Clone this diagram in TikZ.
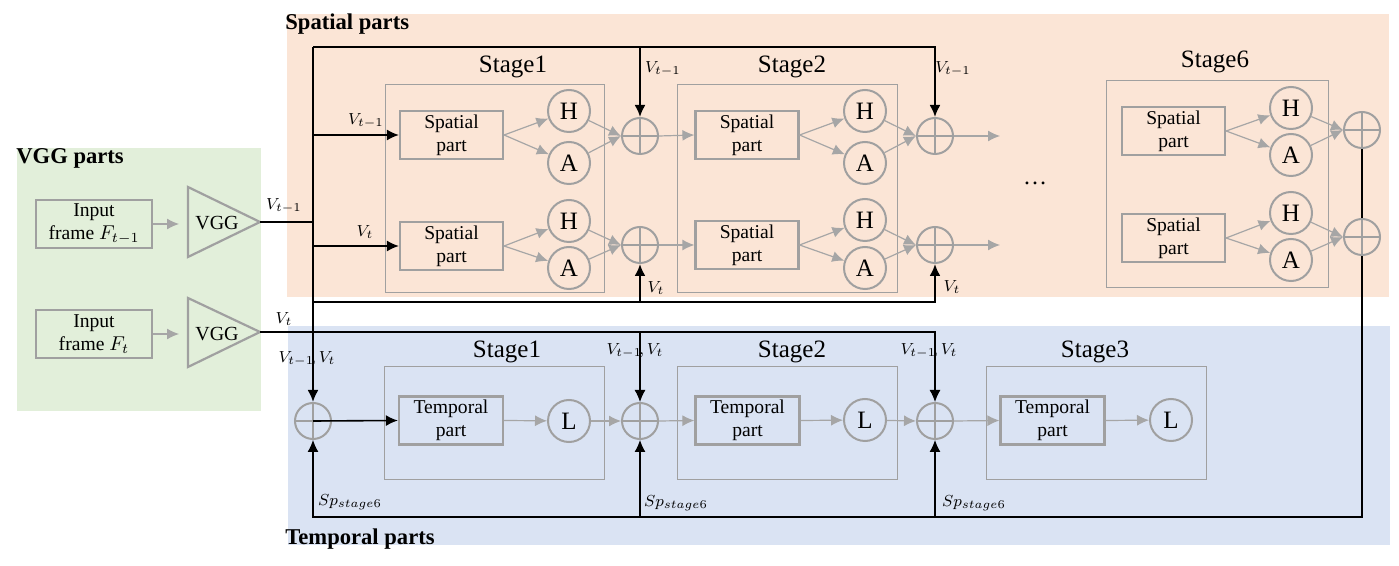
\documentclass[tikz,border=0pt]{standalone}
\usepackage{fontspec}
\setmainfont{Liberation Serif}
\usetikzlibrary{arrows.meta}
\definecolor{bgG}{RGB}{226,239,218}
\definecolor{bgO}{RGB}{251,229,214}
\definecolor{bgB}{RGB}{218,227,243}
\definecolor{gr}{RGB}{160,160,160}
\definecolor{grA}{RGB}{166,166,166}
\begin{document}
\begin{tikzpicture}[x=0.5pt,y=-0.5pt,
  box/.style={draw=gr,line width=1.1pt,minimum width=51.5pt,minimum height=24pt,inner sep=0pt,align=center,font=\fontsize{9.8}{11.3}\selectfont},
  circ/.style={circle,draw=gr,line width=1pt,minimum size=21pt,inner sep=0pt,font=\fontsize{12.5}{14}\selectfont},
  plus/.style={circle,draw=gr,line width=1pt,minimum size=18pt,inner sep=0pt,path picture={\draw[gr,line width=0.8pt] (path picture bounding box.north)--(path picture bounding box.south) (path picture bounding box.west)--(path picture bounding box.east);}},
  stg/.style={draw=gr,line width=0.5pt},
  tri/.style={draw=gr,line width=1.1pt},
  ttl/.style={font=\fontsize{12.5}{14}\selectfont,inner sep=0pt},
  lbl/.style={font=\fontsize{8.5}{9.5}\selectfont,inner sep=0pt},
  hdr/.style={font=\bfseries\fontsize{11.3}{13}\selectfont,anchor=west,inner sep=0pt},
  ga/.style={draw=grA,line width=0.6pt,-{Latex[length=6pt,width=5.5pt]}},
  bk/.style={draw=black,line width=0.6pt},
  bkm/.style={draw=black,line width=0.8pt},
  bkt/.style={draw=black,line width=1.05pt},
  ba/.style={-{Latex[length=6pt,width=5.5pt]}},
]
% backgrounds
\fill[white] (0,0) rectangle (1399,566);
\fill[bgG] (17,148) rectangle (261,411);
\fill[bgO] (287,14) rectangle (1389,297);
\fill[bgB] (288,326) rectangle (1390,545);

% headers
\node[hdr] (hV) at (16,158) {VGG parts};
\node[hdr] (hS) at (285,24) {Spatial parts};
\node[hdr] (hT) at (285,539) {Temporal parts};

% stage frames
\draw[stg] (385,85) rectangle (604,293);
\draw[stg] (677,85) rectangle (897,293);
\draw[stg] (1106,81) rectangle (1328,288);
\draw[stg] (384,367) rectangle (604,480);
\draw[stg] (677,367) rectangle (897,480);
\draw[stg] (986,367) rectangle (1206,480);

\node[ttl] (st1) at (513,67) {Stage1};
\node[ttl] (st2) at (792,67) {Stage2};
\node[ttl] (st6) at (1215,62) {Stage6};
\node[ttl] (tt1) at (507,352) {Stage1};
\node[ttl] (tt2) at (792,352) {Stage2};
\node[ttl] (tt3) at (1095,352) {Stage3};
\node[font=\fontsize{12}{14}\selectfont] (dots) at (1035,183) {\dots};

% VGG part
\node[box,minimum width=58pt] (in1) at (94,224) {Input\\frame $F_{t-1}$};
\node[box,minimum width=58pt] (in2) at (94,334) {Input\\frame $F_t$};
\draw[tri] (188,187) -- (260,222) -- (188,257) -- cycle;
\draw[tri] (188,298) -- (260,332) -- (188,367) -- cycle;
\node[font=\fontsize{10}{11}\selectfont,inner sep=0pt] (vggA) at (217,223) {VGG};
\node[font=\fontsize{10}{11}\selectfont,inner sep=0pt] (vggB) at (217,334) {VGG};
\coordinate (vgg1) at (260,222);
\coordinate (vgg2) at (260,332);
\coordinate (vi1) at (179,224);
\coordinate (vi2) at (179,334);
\draw[ga] (in1.east) -- (vi1);
\draw[ga] (in2.east) -- (vi2);

% spatial stage 1
\node[box] (s1a) at (451.5,135) {Spatial\\part};
\node[box] (s1b) at (451.5,246) {Spatial\\part};
\node[circ] (h1a) at (569,111) {H};
\node[circ] (a1a) at (569,163) {A};
\node[circ] (h1b) at (569,221) {H};
\node[circ] (a1b) at (569,268) {A};
\node[plus] (so1) at (640,136) {};
\node[plus] (su1) at (640,245) {};
% spatial stage 2
\node[box] (s2a) at (747,135) {Spatial\\part};
\node[box] (s2b) at (747,245) {Spatial\\part};
\node[circ] (h2a) at (865,111) {H};
\node[circ] (a2a) at (865,163) {A};
\node[circ] (h2b) at (865,220) {H};
\node[circ] (a2b) at (865,268) {A};
\node[plus] (so2) at (935,136) {};
\node[plus] (su2) at (935,245) {};
\coordinate (e2a) at (1000,136);
\coordinate (e2b) at (1000,245);
% spatial stage 6
\node[box] (s6a) at (1173.5,131) {Spatial\\part};
\node[box] (s6b) at (1173.5,238) {Spatial\\part};
\node[circ] (h6a) at (1291,108) {H};
\node[circ] (a6a) at (1291,155) {A};
\node[circ] (h6b) at (1291,213) {H};
\node[circ] (a6b) at (1291,260) {A};

% temporal
\node[plus] (tp1) at (313,421) {};
\node[plus] (tp2) at (640,421) {};
\node[plus] (tp3) at (935,421) {};
\node[box,minimum width=52pt] (t1) at (451,420.5) {Temporal\\part};
\node[box,minimum width=52pt] (t2) at (747.5,420.5) {Temporal\\part};
\node[box,minimum width=52pt] (t3) at (1052.5,420.5) {Temporal\\part};
\node[circ] (L1) at (569,421) {L};
\node[circ] (L2) at (865,420) {L};
\node[circ] (L3) at (1171,420) {L};

% black connectors
\coordinate (jtop) at (313,47);
\coordinate (jbot) at (313,302);
\coordinate (fb) at (1362,517);
\draw[bkt] (vgg1) -- (vgg1 -| jtop);
\draw[bkt,ba] (jtop) -- (tp1.north);
\draw[bkt,ba] (jtop) -- (so2 |- jtop) -- (so2.north);
\draw[bkt,ba] (so1 |- jtop) -- (so1.north);
\draw[bkt,ba] (jbot) -- (su2 |- jbot) -- (su2.south);
\draw[bkt,ba] (su1 |- jbot) -- (su1.south);
\draw[bkm,ba] (s1a.west -| jtop) -- (s1a.west);
\draw[bkm,ba] (s1b.west -| jtop) -- (s1b.west);
\draw[bk,ba] (vgg2) -- (tp3 |- vgg2) -- (tp3.north);
\draw[bk,ba] (tp2 |- vgg2) -- (tp2.north);
\draw[bkm,ba] (tp1.center) -- (t1.west);

% stage 6 sums with feedback line
\draw[bk,ba] (1362,148) -- (fb) -- (tp1 |- fb) -- (tp1.south);
\node[plus] (so6) at (1362,130) {};
\node[plus] (su6) at (1362,237) {};
\draw[bk] (so6.south) -- (su6.north);
\draw[bk,ba] (tp2 |- fb) -- (tp2.south);
\draw[bk,ba] (tp3 |- fb) -- (tp3.south);

% gray connectors spatial
\foreach \s/\h/\a/\p in {s1a/h1a/a1a/so1, s1b/h1b/a1b/su1, s2a/h2a/a2a/so2, s2b/h2b/a2b/su2, s6a/h6a/a6a/so6, s6b/h6b/a6b/su6}{
  \draw[ga] (\s.east) -- (\h);
  \draw[ga] (\s.east) -- (\a);
  \draw[ga] (\h) -- (\p.west);
  \draw[ga] (\a) -- (\p.west);
}
\draw[ga] (so1.east) -- (s2a.west);
\draw[ga] (su1.east) -- (s2b.west);
\draw[ga] (so2.east) -- (e2a);
\draw[ga] (su2.east) -- (e2b);

% gray connectors temporal
\draw[ga] (t1.east) -- (L1);
\draw[ga] (L1) -- (tp2.west);
\draw[ga] (tp2.east) -- (t2.west);
\draw[ga] (t2.east) -- (L2);
\draw[ga] (L2) -- (tp3.west);
\draw[ga] (tp3.east) -- (t3.west);
\draw[ga] (t3.east) -- (L3);

% labels
\node[lbl] (lA) at (284,206) {$V_{t-1}$};
\node[lbl] (lB) at (284,319) {$V_t$};
\node[lbl] (lC) at (366,121) {$V_{t-1}$};
\node[lbl] (lD) at (365,232) {$V_t$};
\node[lbl] (lE) at (663,69) {$V_{t-1}$};
\node[lbl] (lF) at (656,288) {$V_t$};
\node[lbl] (lG) at (953,69) {$V_{t-1}$};
\node[lbl] (lH) at (952,287) {$V_t$};
\node[lbl] (lI) at (307,359) {$V_{t-1}\!,V_t$};
\node[lbl] (lJ) at (635,351) {$V_{t-1}\!,V_t$};
\node[lbl] (lK) at (929,351) {$V_{t-1}\!,V_t$};
\node[lbl] (lL) at (350,502) {$Sp_{stage6}$};
\node[lbl] (lM) at (676,503) {$Sp_{stage6}$};
\node[lbl] (lN) at (974,503) {$Sp_{stage6}$};
\end{tikzpicture}
\end{document}
